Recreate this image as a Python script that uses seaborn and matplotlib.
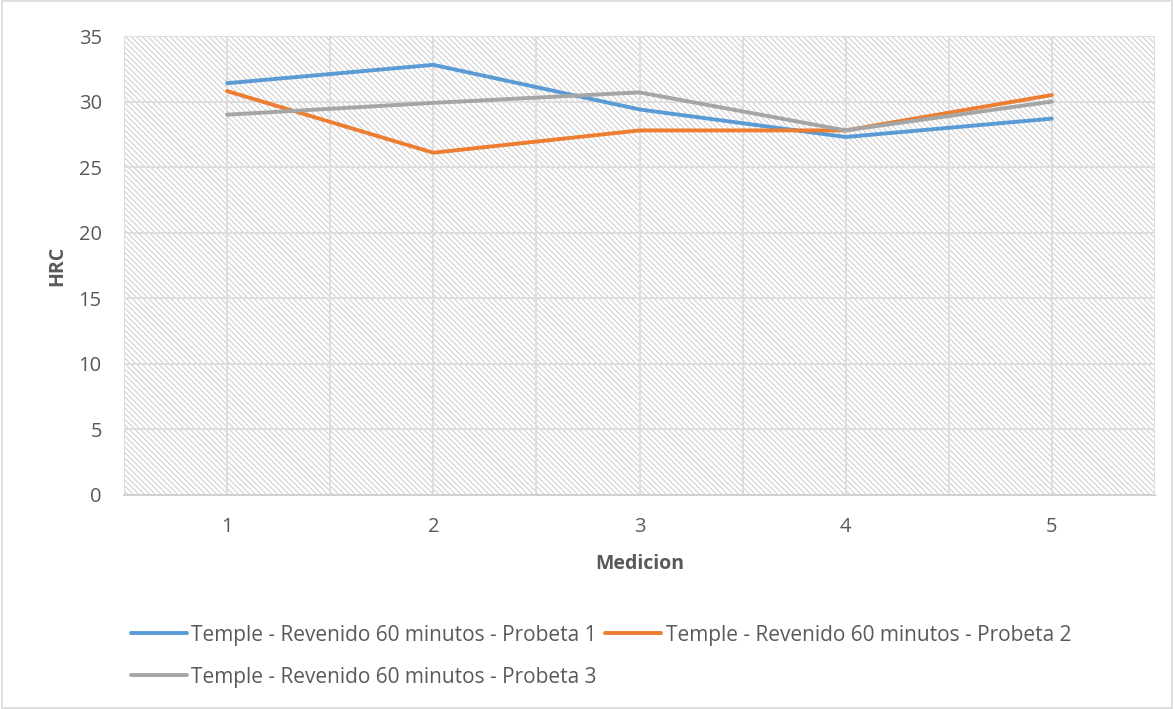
import numpy as np
import pandas as pd
import seaborn as sns
import matplotlib.pyplot as plt
from matplotlib.patches import Rectangle
from matplotlib.ticker import MultipleLocator

# Hardness readings (HRC) per measurement for three specimens
mediciones = [1, 2, 3, 4, 5]
probeta_1 = [31.4, 32.8, 29.4, 27.3, 28.7]
probeta_2 = [30.8, 26.1, 27.8, 27.8, 30.5]
probeta_3 = [29.0, 29.9, 30.7, 27.8, 30.0]
series_names = [
    "Temple - Revenido 60 minutos - Probeta 1",
    "Temple - Revenido 60 minutos - Probeta 2",
    "Temple - Revenido 60 minutos - Probeta 3",
]
colors = ["#5B9BD5", "#ED7D31", "#A5A5A5"]

df = pd.DataFrame({
    "Medicion": mediciones * 3,
    "HRC": probeta_1 + probeta_2 + probeta_3,
    "Serie": np.repeat(series_names, len(mediciones)),
})

sns.set_theme(style="white")
plt.rcParams["font.family"] = ["Open Sans", "DejaVu Sans"]
plt.rcParams["hatch.linewidth"] = 0.8
text_color = "#595959"

fig = plt.figure(figsize=(11.74, 7.09), dpi=100)
ax = fig.add_axes([124 / 1174, 1 - 495 / 709, (1155 - 124) / 1174, (495 - 36) / 709])

# hatched plot background
bg = Rectangle((0, 0), 1, 1, transform=ax.transAxes, facecolor="white",
               edgecolor="#d0d0d0", hatch="\\\\\\\\\\\\", linewidth=0, zorder=0)
ax.add_patch(bg)

sns.lineplot(data=df, x="Medicion", y="HRC", hue="Serie", palette=colors,
             linewidth=2.8, ax=ax, legend=False, zorder=3)

ax.set_xlim(0.5, 5.5)
ax.set_ylim(0, 35)
ax.yaxis.set_major_locator(MultipleLocator(5))
ax.xaxis.set_major_locator(MultipleLocator(1))
ax.xaxis.set_minor_locator(MultipleLocator(0.5))
ax.grid(True, which="both", axis="x", color="#dedede", linewidth=1.4, zorder=1)
ax.grid(True, which="major", axis="y", color="#dedede", linewidth=1.4, zorder=1)
ax.set_axisbelow(True)
for side in ["top", "right", "left"]:
    ax.spines[side].set_visible(False)
ax.spines["bottom"].set_color("#d0d0d0")
ax.spines["bottom"].set_linewidth(1.4)
ax.tick_params(axis="both", which="both", length=0, labelsize=14.5,
               colors=text_color)
ax.tick_params(axis="x", pad=16)
ax.tick_params(axis="y", pad=16)

ax.set_xlabel("Medicion", fontsize=14, fontweight="bold", color=text_color, labelpad=12)
ax.set_ylabel("HRC", fontsize=14, fontweight="bold", color=text_color, labelpad=8)

# legend below the plot, filled row by row
order = [0, 2, 1]
handles = [plt.Line2D([], [], color=colors[i], linewidth=2.8) for i in order]
labels = [series_names[i] for i in order]
fig.legend(handles, labels, loc="upper left",
           bbox_to_anchor=(112 / 1174, 1 - 606 / 709), ncol=2, frameon=False,
           fontsize=15, handlelength=2.7, handletextpad=0.2, columnspacing=0.4,
           labelspacing=1.0, labelcolor=text_color)

# chart outer border
fig.patches.append(Rectangle((0.002, 0.002), 0.996, 0.996, transform=fig.transFigure,
                             fill=False, edgecolor="#d9d9d9", linewidth=1.2))

fig.savefig("out.png", dpi=100)
